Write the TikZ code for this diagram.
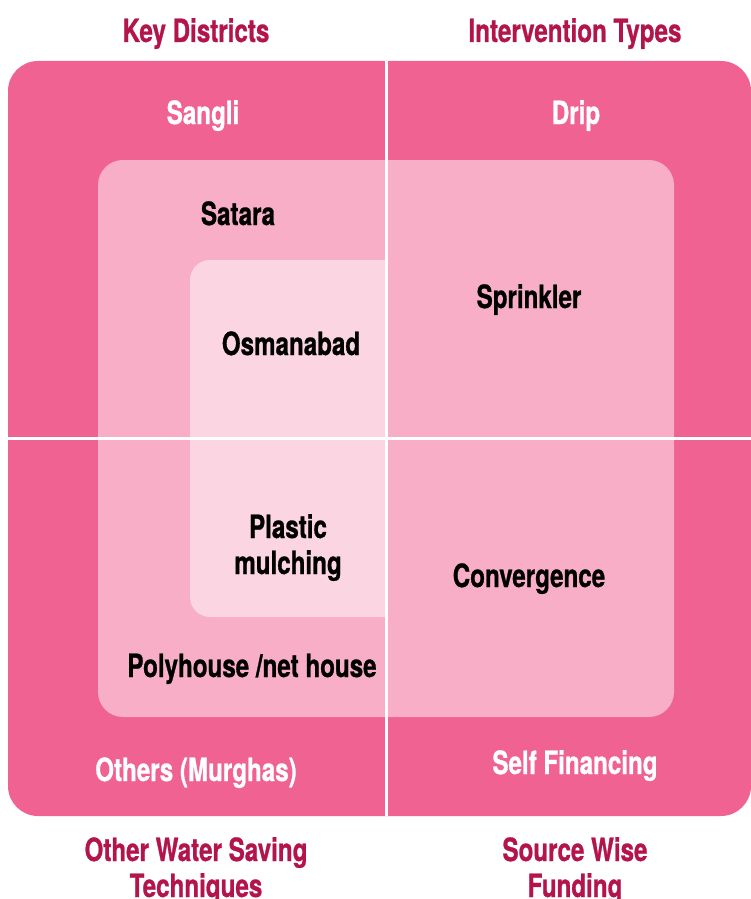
\documentclass[tikz,border=0pt]{standalone}
\usepackage{fontspec}
\setmainfont{TeX Gyre Heros}[FakeStretch=0.755,BoldFeatures={FakeBold=0.8}]
\definecolor{outerpink}{RGB}{240,98,146}
\definecolor{midpink}{RGB}{247,174,198}
\definecolor{innerpink}{RGB}{251,213,225}
\definecolor{titlered}{RGB}{178,20,75}
\begin{document}
\begin{tikzpicture}[x=1pt,y=-1pt,
  lbl/.style={inner sep=0pt,anchor=base,font=\fontsize{32}{36}\selectfont\bfseries},
  ttl/.style={lbl,text=titlered,align=center},
  wlbl/.style={lbl,text=white},
  blbl/.style={lbl,text=black,align=center}]
\useasboundingbox (0,0) rectangle (751,899);
% boxes
\fill[outerpink,rounded corners=30pt] (8,61) rectangle (751,816);
\fill[midpink,rounded corners=25pt] (98,160) rectangle (674,717);
\begin{scope}
  \clip (180,250) rectangle (386,630);
  \fill[innerpink,rounded corners=20pt] (190,260) rectangle (430,617);
\end{scope}
% dividers
\draw[white,line width=3pt] (386,61) -- (386,816);
\draw[white,line width=3pt] (8,438) -- (751,438);
% titles
\node[ttl] (t1) at (196,42) {Key Districts};
\node[ttl] (t2) at (575,42) {Intervention Types};
\node[ttl] (t3) at (196,897) {Other Water Saving\\Techniques};
\node[ttl] (t4) at (575,897) {Source Wise\\Funding};
% outer ring labels
\node[wlbl] (sangli) at (203,124) {Sangli};
\node[wlbl] (drip) at (576,124) {Drip};
\node[wlbl] (others) at (196,781) {Others (Murghas)};
\node[wlbl] (self) at (575,774) {Self Financing};
% middle
\node[blbl] (satara) at (238,225) {Satara};
\node[blbl] (sprink) at (529,308) {Sprinkler};
\node[blbl] (conv) at (529,587) {Convergence};
\node[blbl] (poly) at (252,677) {Polyhouse /net house};
% inner
\node[blbl] (osm) at (291,355) {Osmanabad};
\node[blbl] (plast) at (288,574) {Plastic\\mulching};
\end{tikzpicture}
\end{document}
